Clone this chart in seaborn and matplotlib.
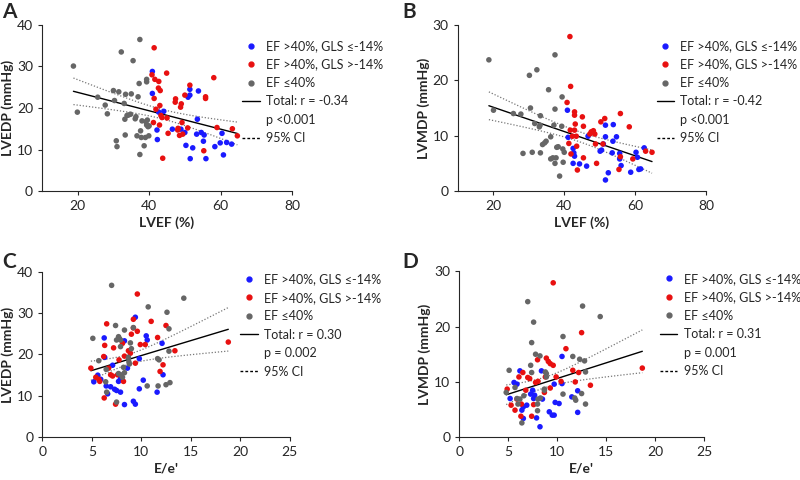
import numpy as np
import pandas as pd
import matplotlib
matplotlib.use("Agg")
import matplotlib.pyplot as plt
from matplotlib.lines import Line2D
import seaborn as sns

# ---- panel A: LVEF vs LVEDP ----
a_blue_x = [40.9, 40.9, 42.2, 42.3, 42.7, 44.1, 46.5, 48.9, 50.0, 50.3, 50.9, 51.4, 51.4, 51.5,
            52.2, 53.3, 53.5, 53.8, 54.6, 55.2, 55.4, 55.9, 58.4, 59.9, 60.4, 60.8, 61.7, 63.1]
a_blue_y = [28.8, 23.5, 14.7, 12.4, 19.0, 19.2, 14.9, 14.9, 14.1, 11.0, 22.6, 24.5, 23.1, 7.8,
            10.4, 13.7, 17.3, 24.1, 14.1, 12.0, 13.5, 7.8, 10.7, 11.6, 13.9, 8.7, 11.7, 11.3]
a_red_x = [41.4, 40.8, 41.6, 41.4, 41.9, 41.2, 42.7, 42.6, 43.1, 43.0, 43.3, 42.9, 43.6, 43.8,
           44.9, 45.0, 45.3, 47.4, 47.3, 48.0, 48.1, 48.5, 48.8, 49.0, 49.2, 49.4, 50.0, 50.8,
           51.4, 55.3, 55.8, 55.8, 58.1, 59.0, 63.3, 64.7]
a_red_y = [34.5, 28.0, 26.9, 22.3, 19.7, 16.5, 26.4, 24.8, 24.2, 20.6, 18.2, 15.9, 17.7, 7.9,
           28.4, 17.6, 13.9, 22.2, 21.4, 14.7, 15.1, 13.4, 20.2, 21.0, 16.5, 13.7, 23.1, 15.2,
           25.5, 9.7, 22.7, 22.3, 27.3, 15.3, 15.0, 13.3]
a_gray_x = [18.8, 19.9, 25.6, 27.7, 28.3, 30.0, 30.3, 30.8, 31.0, 31.5, 32.2, 33.0, 33.2, 33.3,
            33.4, 33.8, 34.2, 34.8, 35.0, 35.5, 36.1, 36.3, 36.6, 36.9, 37.2, 37.4, 37.4, 37.6,
            37.8, 38.0, 38.6, 38.95, 39.1, 39.3, 39.3, 39.3, 39.5, 39.7, 39.9, 40.0]
a_gray_y = [30.1, 19.0, 22.6, 20.7, 18.6, 24.2, 21.8, 12.1, 10.7, 23.9, 33.5, 21.1, 17.3, 13.5,
            23.3, 18.2, 18.3, 18.5, 23.4, 31.4, 17.4, 17.9, 13.3, 22.7, 25.9, 36.5, 8.8, 14.5,
            12.9, 16.9, 10.9, 12.9, 16.7, 26.3, 26.9, 15.9, 17.1, 15.5, 13.3, 15.7]

# ---- panel B: LVEF vs LVMDP ----
b_blue_x = [41.1, 40.9, 42.5, 42.7, 42.9, 42.5, 44.3, 46.7, 46.3, 50.1, 50.5, 51.0, 51.6, 51.6,
            51.6, 52.4, 53.5, 53.7, 53.8, 54.7, 55.6, 55.6, 56.0, 58.7, 60.2, 60.6, 61.0, 61.5, 62.5]
b_blue_y = [9.7, 14.6, 7.7, 6.9, 6.3, 5.0, 4.9, 9.9, 4.5, 7.2, 7.4, 8.5, 11.9, 9.8,
            2.0, 3.3, 6.9, 9.0, 12.0, 9.8, 6.8, 5.8, 4.6, 3.4, 7.0, 6.1, 3.9, 4.0, 7.8]
b_red_x = [41.6, 41.8, 40.8, 42.9, 42.9, 43.1, 41.7, 42.9, 42.3, 43.4, 41.3, 43.5, 41.9, 43.7,
           45.1, 45.4, 45.4, 47.2, 47.6, 48.2, 48.6, 48.8, 49.1, 50.3, 50.9, 51.4, 55.8, 55.4,
           55.8, 58.3, 59.3, 62.9, 64.7]
b_red_y = [27.9, 18.9, 16.0, 14.3, 13.7, 12.1, 11.0, 11.0, 9.9, 9.9, 8.6, 8.1, 6.7, 3.8,
           13.4, 11.7, 6.0, 10.3, 10.7, 10.9, 10.3, 8.5, 5.0, 12.5, 8.5, 13.1, 14.0, 3.9,
           6.2, 11.6, 5.8, 7.2, 7.0]
b_gray_x = [18.8, 20.1, 25.7, 27.8, 28.4, 30.2, 30.5, 31.0, 31.7, 32.3, 33.0, 33.2, 33.3, 33.3,
            33.9, 34.5, 34.9, 35.6, 36.2, 36.2, 36.8, 37.1, 37.4, 37.4, 37.4, 37.7, 37.9, 38.3,
            38.7, 39.3, 39.4, 39.6, 39.7, 40.0]
b_gray_y = [23.7, 14.6, 14.0, 13.9, 6.8, 20.9, 15.0, 7.0, 12.2, 21.9, 11.6, 11.9, 13.6, 6.9,
            8.4, 8.7, 9.0, 18.3, 9.8, 5.8, 6.0, 11.9, 24.6, 14.8, 5.0, 6.0, 7.9, 8.0,
            2.7, 11.7, 17.0, 7.6, 5.2, 7.0]

# ---- panel C: E/e' vs LVEDP ----
c_blue_x = [5.2, 5.6, 5.9, 6.25, 6.3, 6.45, 6.6, 6.9, 7.1, 7.3, 7.5, 7.7, 7.8, 7.9, 7.9,
            8.3, 8.3, 8.6, 9.4, 9.2, 9.4, 9.8, 9.8, 10.2, 10.5, 10.6, 11.6, 12.1, 12.2]
c_blue_y = [13.4, 15.0, 14.0, 24.0, 19.3, 12.4, 10.5, 12.2, 17.4, 11.6, 11.3, 13.5, 15.1, 14.2, 10.9,
            23.3, 7.9, 16.7, 29.0, 8.7, 8.0, 19.0, 11.7, 13.8, 24.5, 23.5, 10.9, 22.7, 15.1]
c_red_x = [4.9, 5.4, 5.7, 5.8, 6.2, 6.3, 6.25, 6.5, 6.7, 6.9, 7.1, 7.2, 7.4, 7.6, 7.75,
           8.1, 8.2, 8.3, 8.7, 8.9, 9.0, 9.2, 9.2, 9.4, 9.6, 9.6, 9.9, 10.4, 11.0, 11.65,
           11.9, 12.2, 12.5, 13.4, 18.8]
c_red_y = [16.7, 14.5, 14.0, 13.5, 19.5, 22.2, 9.5, 27.4, 16.7, 15.1, 14.8, 21.6, 8.0, 15.1, 18.7,
           22.7, 13.5, 19.6, 20.9, 20.3, 24.9, 26.4, 28.5, 17.9, 25.6, 34.6, 22.4, 22.4, 28.0, 24.1,
           15.9, 17.5, 27.0, 20.9, 23.0]
c_gray_x = [5.1, 5.7, 6.45, 6.5, 7.0, 7.4, 7.5, 7.5, 7.7, 7.8, 7.9, 7.9, 7.9, 8.1, 8.2,
            8.3, 8.3, 8.7, 8.75, 8.8, 8.9, 9.0, 9.2, 10.7, 10.6, 11.7, 11.65, 11.8, 12.6, 12.5,
            12.8, 12.8, 12.9, 14.3, 6.4, 7.7]
c_gray_y = [23.9, 18.5, 16.4, 10.9, 36.7, 27.0, 23.5, 8.5, 24.3, 23.8, 23.5, 21.9, 15.1, 14.5, 16.9,
            25.9, 15.6, 19.3, 18.2, 17.7, 22.8, 21.4, 26.5, 31.5, 12.4, 12.4, 19.0, 18.7, 30.2, 12.7,
            26.2, 20.8, 13.2, 33.6, 13.4, 15.4]

# ---- panel D: E/e' vs LVMDP ----
d_blue_x = [5.2, 5.6, 5.9, 6.2, 6.4, 6.55, 6.55, 6.9, 7.3, 7.5, 7.6, 7.7, 7.9, 8.25,
            8.4, 8.5, 9.2, 9.5, 9.7, 9.7, 9.8, 10.2, 10.5, 10.5, 11.5, 12.1, 12.1]
d_blue_y = [7.0, 9.9, 9.6, 12.0, 4.9, 3.4, 5.5, 5.8, 7.8, 8.5, 7.0, 7.6, 3.5, 1.9,
            12.0, 6.9, 4.6, 4.0, 4.0, 9.6, 6.3, 6.1, 14.6, 9.7, 7.3, 8.4, 4.5]
d_red_x = [4.9, 5.3, 5.7, 5.9, 6.1, 6.3, 6.35, 6.5, 6.8, 7.0, 7.2, 7.4, 7.6, 7.8, 8.0,
           8.05, 8.7, 8.8, 8.9, 9.1, 9.3, 9.3, 9.6, 9.6, 9.9, 10.4, 10.9, 11.6, 11.85, 12.2,
           12.5, 13.4, 18.7]
d_red_y = [8.7, 5.8, 4.9, 6.9, 10.9, 3.8, 6.0, 11.7, 8.5, 10.8, 10.6, 3.8, 5.9, 9.9, 14.0,
           10.1, 8.1, 10.9, 14.3, 13.7, 13.3, 8.9, 13.0, 27.9, 10.9, 10.1, 16.0, 12.1, 10.0, 11.7,
           18.9, 9.4, 12.5]
d_gray_x = [4.8, 5.1, 5.7, 5.9, 6.0, 6.2, 6.4, 6.6, 7.0, 7.4, 7.4, 7.3, 7.6, 7.8, 8.0,
            8.0, 8.05, 8.25, 8.3, 8.7, 8.8, 8.9, 8.7, 8.9, 10.6, 10.6, 11.6, 11.8, 11.9, 12.3,
            12.5, 12.6, 12.8, 12.9, 12.9, 14.4]
d_gray_y = [8.1, 12.1, 9.0, 7.0, 6.0, 6.9, 2.6, 7.5, 24.5, 17.1, 11.7, 13.0, 20.8, 15.0, 4.8,
            6.0, 6.9, 14.7, 7.1, 8.5, 11.8, 11.5, 8.7, 10.9, 18.2, 7.8, 14.6, 7.1, 6.7, 14.1,
            7.9, 23.7, 13.8, 11.8, 6.0, 21.8]

groups = ["EF >40%, GLS \u2264-14%", "EF >40%, GLS >-14%", "EF \u226440%"]
palette = {groups[0]: "#1a1aff", groups[1]: "#e81010", groups[2]: "#666666"}

stats = {
    "A": ("Total: r = -0.34", "p <0.001"),
    "B": ("Total: r = -0.42", "p <0.001"),
    "C": ("Total: r = 0.30", "p = 0.002"),
    "D": ("Total: r = 0.31", "p = 0.001"),
}

sns.set_style("ticks")
plt.rcParams["font.family"] = ["Lato", "DejaVu Sans"]


def make_df(bx, by, rx, ry, gx, gy):
    return pd.DataFrame({
        "x": bx + rx + gx,
        "y": by + ry + gy,
        "group": [groups[0]] * len(bx) + [groups[1]] * len(rx) + [groups[2]] * len(gx),
    })


def draw_panel(ax, df, letter, letter_pos, xlabel, ylabel, xlim, xticks, ylim, yticks, leg_x, leg_y):
    sns.scatterplot(data=df, x="x", y="y", hue="group", palette=palette, s=16,
                    linewidth=0, ax=ax, legend=False, zorder=3)
    sns.regplot(data=df, x="x", y="y", scatter=False, ci=None, truncate=True,
                line_kws=dict(color="black", lw=1), ax=ax)
    # 95% CI of the regression line, dotted
    x = df["x"].to_numpy()
    y = df["y"].to_numpy()
    n = len(x)
    b, a = np.polyfit(x, y, 1)
    xs = np.linspace(x.min(), x.max(), 100)
    s = np.sqrt(np.sum((y - (a + b * x)) ** 2) / (n - 2))
    se = s * np.sqrt(1 / n + (xs - x.mean()) ** 2 / np.sum((x - x.mean()) ** 2))
    for sign in (1, -1):
        ax.plot(xs, a + b * xs + sign * 1.98 * se, ls=(0, (1, 1.5)), color="#777777", lw=0.9)

    ax.set_xlim(xlim)
    ax.set_ylim(ylim)
    ax.set_xticks(xticks)
    ax.set_yticks(yticks)
    ax.set_xlabel(xlabel, fontsize=10, fontweight="bold", labelpad=3)
    ax.set_ylabel(ylabel, fontsize=10, fontweight="bold", labelpad=2)
    ax.tick_params(labelsize=10, length=3, width=0.8)
    sns.despine(ax=ax)
    for sp in ax.spines.values():
        sp.set_linewidth(0.8)

    handles = [Line2D([], [], ls="", marker="o", markersize=3.5, color=palette[g]) for g in groups]
    handles += [Line2D([], [], color="black", lw=1),
                Line2D([], [], ls="", marker=""),
                Line2D([], [], color="black", lw=1, ls=(0, (2, 1.5)))]
    labels = groups + [stats[letter][0], stats[letter][1], "95% CI"]
    ax.legend(handles, labels, loc="upper left", bbox_to_anchor=(leg_x, leg_y), frameon=False,
              fontsize=9, borderpad=0, borderaxespad=0, labelspacing=0.52,
              handlelength=1.4, handletextpad=0.5)
    fig.text(letter_pos[0] / 800, 1 - letter_pos[1] / 480, letter, fontsize=15,
             fontweight="bold", va="center", ha="left")


fig = plt.figure(figsize=(8, 4.8), dpi=100)
ax_a = fig.add_axes([0.0525, 0.602, 0.3125, 0.346])
ax_b = fig.add_axes([0.572, 0.602, 0.311, 0.346])
ax_c = fig.add_axes([0.053, 0.089, 0.309, 0.345])
ax_d = fig.add_axes([0.574, 0.089, 0.306, 0.346])

draw_panel(ax_a, make_df(a_blue_x, a_blue_y, a_red_x, a_red_y, a_gray_x, a_gray_y), "A", (2, 12),
           "LVEF (%)", "LVEDP (mmHg)", (10, 80), [20, 40, 60, 80], (0, 40), [0, 10, 20, 30, 40],
           0.80, 0.91)
draw_panel(ax_b, make_df(b_blue_x, b_blue_y, b_red_x, b_red_y, b_gray_x, b_gray_y), "B", (402, 12),
           "LVEF (%)", "LVMDP (mmHg)", (10, 80), [20, 40, 60, 80], (0, 30), [0, 10, 20, 30],
           0.80, 0.91)
draw_panel(ax_c, make_df(c_blue_x, c_blue_y, c_red_x, c_red_y, c_gray_x, c_gray_y), "C", (2, 262),
           "E/e'", "LVEDP (mmHg)", (0, 25), [0, 5, 10, 15, 20, 25], (0, 40), [0, 10, 20, 30, 40],
           0.80, 0.99)
draw_panel(ax_d, make_df(d_blue_x, d_blue_y, d_red_x, d_red_y, d_gray_x, d_gray_y), "D", (402, 262),
           "E/e'", "LVMDP (mmHg)", (0, 25), [0, 5, 10, 15, 20, 25], (0, 30), [0, 10, 20, 30],
           0.82, 0.99)

fig.savefig("out.png", dpi=100)
